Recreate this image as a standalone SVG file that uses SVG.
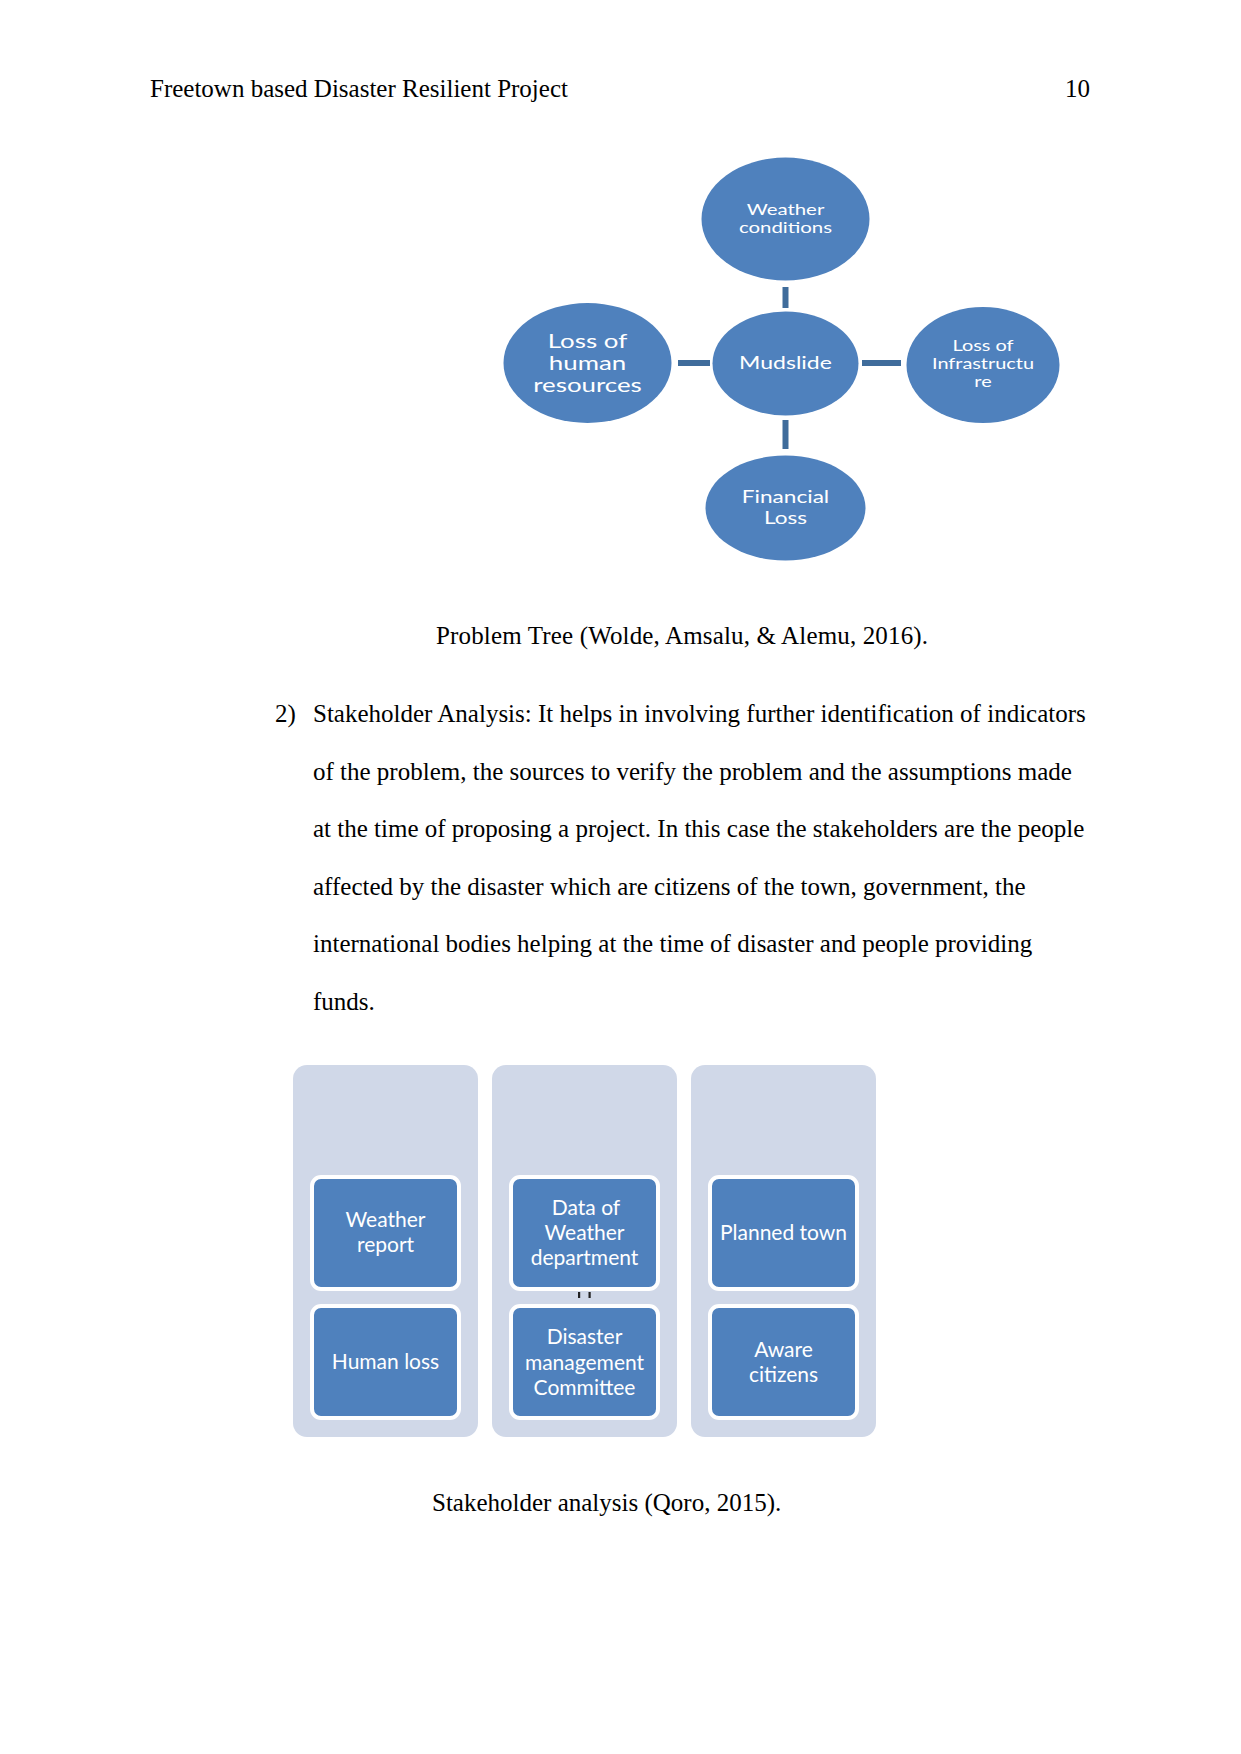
<svg xmlns="http://www.w3.org/2000/svg" width="1241" height="1754" viewBox="0 0 1241 1754">
<style>
.page{font-family:"Liberation Serif","Times New Roman",serif;font-size:25px;fill:#000}
.ell{fill:#4F81BD}
.et{font-family:Lato,"Open Sans",sans-serif;fill:#fff;text-anchor:middle}
.conn{stroke:#3F6C9B;stroke-width:6;fill:none}
.col{fill:#D0D8E8}
.box{fill:#4F81BD;stroke:#fff;stroke-width:4}
.bt{font-family:Lato,"Open Sans",sans-serif;font-size:21px;fill:#fff;text-anchor:middle}
</style>
<rect width="1241" height="1754" fill="#fff"/>
<text class="page" x="150" y="97">Freetown based Disaster Resilient Project</text>
<text class="page" x="1090" y="97" text-anchor="end">10</text>

<g id="connectors">
<line class="conn" x1="785.5" y1="287" x2="785.5" y2="308"/>
<line class="conn" x1="785.5" y1="420" x2="785.5" y2="449"/>
<line class="conn" x1="678" y1="363" x2="710" y2="363"/>
<line class="conn" x1="862" y1="363" x2="901" y2="363"/>
</g>

<g id="weather-conditions">
<ellipse class="ell" cx="785.5" cy="219" rx="84" ry="61.5"/>
<text class="et" font-size="15.7" transform="translate(785.5 0) scale(1.3 1)"><tspan x="0" y="215">Weather</tspan><tspan x="0" y="233">conditions</tspan></text>
</g>
<g id="mudslide">
<ellipse class="ell" cx="785.5" cy="363.5" rx="73" ry="52"/>
<text class="et" font-size="17.7" transform="translate(785.5 0) scale(1.3 1)" x="0" y="369.5">Mudslide</text>
</g>
<g id="loss-human-resources">
<ellipse class="ell" cx="587.5" cy="363" rx="84" ry="60"/>
<text class="et" font-size="19.9" transform="translate(587.5 0) scale(1.3 1)"><tspan x="0" y="348">Loss of</tspan><tspan x="0" y="370">human</tspan><tspan x="0" y="392">resources</tspan></text>
</g>
<g id="loss-infrastructure">
<ellipse class="ell" cx="983" cy="365" rx="76.5" ry="58"/>
<text class="et" font-size="15.3" transform="translate(983 0) scale(1.3 1)"><tspan x="0" y="351">Loss of</tspan><tspan x="0" y="369">Infrastructu</tspan><tspan x="0" y="387">re</tspan></text>
</g>
<g id="financial-loss">
<ellipse class="ell" cx="785.5" cy="508" rx="80" ry="52.5"/>
<text class="et" font-size="17.4" transform="translate(785.5 0) scale(1.3 1)"><tspan x="0" y="503">Financial</tspan><tspan x="0" y="524">Loss</tspan></text>
</g>

<text class="page" x="436" y="644" textLength="492" lengthAdjust="spacing">Problem Tree (Wolde, Amsalu, &amp; Alemu, 2016).</text>

<text class="page" x="275" y="722">2)</text>
<text class="page" x="313" y="722">Stakeholder Analysis: It helps in involving further identification of indicators</text>
<text class="page" x="313" y="779.5">of the problem, the sources to verify the problem and the assumptions made</text>
<text class="page" x="313" y="837">at the time of proposing a project. In this case the stakeholders are the people</text>
<text class="page" x="313" y="894.5">affected by the disaster which are citizens of the town, government, the</text>
<text class="page" x="313" y="952">international bodies helping at the time of disaster and people providing</text>
<text class="page" x="313" y="1009.5">funds.</text>

<g id="column-1">
<rect class="col" x="293" y="1065" width="185" height="372" rx="14"/>
</g>
<g id="column-2">
<rect class="col" x="492" y="1065" width="185" height="372" rx="14"/>
</g>
<g id="column-3">
<rect class="col" x="691" y="1065" width="185" height="372" rx="14"/>
</g>

<g id="weather-report">
<rect class="box" x="312" y="1177" width="147" height="112" rx="9"/>
<text class="bt"><tspan x="385.5" y="1227">Weather</tspan><tspan x="385.5" y="1252">report</tspan></text>
</g>
<g id="human-loss">
<rect class="box" x="312" y="1306" width="147" height="112" rx="9"/>
<text class="bt" x="385.5" y="1369">Human loss</text>
</g>
<g id="data-weather-department">
<rect class="box" x="511" y="1177" width="147" height="112" rx="9"/>
<text class="bt"><tspan x="586" y="1215">Data of</tspan><tspan x="584.5" y="1240">Weather</tspan><tspan x="584.5" y="1265">department</tspan></text>
</g>
<g id="disaster-committee">
<rect class="box" x="511" y="1306" width="147" height="112" rx="9"/>
<text class="bt"><tspan x="584.5" y="1344">Disaster</tspan><tspan x="584.5" y="1369.5">management</tspan><tspan x="584.5" y="1394.5">Committee</tspan></text>
</g>
<g id="planned-town">
<rect class="box" x="710" y="1177" width="147" height="112" rx="9"/>
<text class="bt" x="783.5" y="1240">Planned town</text>
</g>
<g id="aware-citizens">
<rect class="box" x="710" y="1306" width="147" height="112" rx="9"/>
<text class="bt"><tspan x="783.5" y="1357">Aware</tspan><tspan x="783.5" y="1382">citizens</tspan></text>
</g>
<g id="ticks">
<rect x="578" y="1292" width="2.2" height="6" fill="#222"/>
<rect x="588.5" y="1292" width="2.2" height="6" fill="#222"/>
</g>

<text class="page" x="432" y="1511">Stakeholder analysis (Qoro, 2015).</text>
</svg>
